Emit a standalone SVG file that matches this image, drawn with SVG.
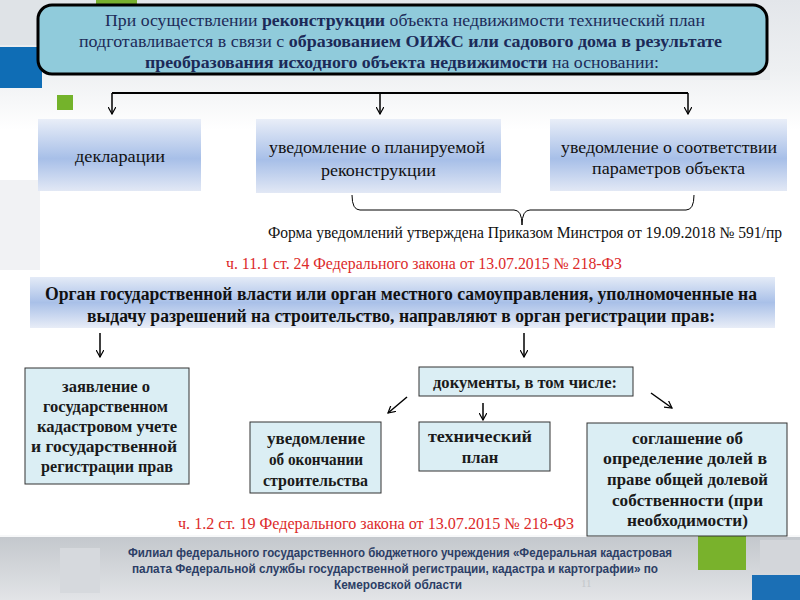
<svg xmlns="http://www.w3.org/2000/svg" width="800" height="600" viewBox="0 0 800 600">
<defs>
<linearGradient id="bgTop" x1="0" y1="0" x2="0" y2="1">
<stop offset="0" stop-color="#e3e6ea"/>
<stop offset="0.55" stop-color="#eef0f2"/>
<stop offset="1" stop-color="#ffffff"/>
</linearGradient>
<linearGradient id="band" x1="0" y1="0" x2="0" y2="1">
<stop offset="0" stop-color="#c4c8cd"/>
<stop offset="1" stop-color="#e2e4e7"/>
</linearGradient>
<linearGradient id="boxGrad" x1="0" y1="0" x2="0" y2="1">
<stop offset="0" stop-color="#e9eef8"/>
<stop offset="0.55" stop-color="#a7bfe8"/>
<stop offset="1" stop-color="#e2e8f5"/>
</linearGradient>
<linearGradient id="banGrad" x1="0" y1="0" x2="0" y2="1">
<stop offset="0" stop-color="#e4ebf7"/>
<stop offset="0.5" stop-color="#a9c0e8"/>
<stop offset="1" stop-color="#e8edf7"/>
</linearGradient>
<marker id="vee" viewBox="0 0 10 10" refX="9" refY="5" markerWidth="8" markerHeight="8" markerUnits="userSpaceOnUse" orient="auto">
<path d="M0,0 L9,5 L0,10" fill="none" stroke="#000" stroke-width="1.5"/>
</marker>
</defs>
<style>
.serif{font-family:"Liberation Serif","DejaVu Serif",serif;}
.top{font-size:17.5px;fill:#1c2a58;}
.gb{font-size:17.5px;fill:#111;}
.lb{font-size:16.5px;font-weight:bold;fill:#1a1a1a;}
.red{font-size:16px;fill:#dc2a2a;}
.foot{font-family:"Liberation Sans Narrow","Liberation Sans",Arial,sans-serif;font-size:13px;font-weight:bold;fill:#2c3e66;}
.grad{fill:url(#boxGrad);}
.light{fill:#dbeef4;stroke:#333;stroke-width:1;}
.conn{stroke:#000;fill:none;}
</style>

<!-- background -->
<rect x="0" y="0" width="800" height="600" fill="#ffffff"/>
<rect x="0" y="0" width="800" height="130" fill="url(#bgTop)"/>
<rect x="0" y="0" width="60" height="45" fill="#dfe3e7"/>
<rect x="700" y="20" width="70" height="60" fill="#e8ebee"/>
<rect x="0" y="180" width="40" height="90" fill="#f1f2f4"/>
<rect x="0" y="47" width="42" height="41" fill="#0f6db5"/>
<rect x="96" y="0" width="41" height="6" fill="#78b02e"/>
<rect x="57" y="95" width="16" height="15" fill="#74b32b"/>
<rect x="0" y="535" width="800" height="2" fill="#f7f8f9"/>
<rect x="0" y="537" width="800" height="63" fill="url(#band)"/>
<rect x="60" y="548" width="40" height="45" fill="#d6d9dd"/>
<rect x="760" y="540" width="40" height="30" fill="#d3d6da"/>
<rect x="698" y="535" width="48" height="35" fill="#79b22c"/>
<rect x="752" y="575" width="48" height="25" fill="#1b6fb5"/>

<!-- connectors -->
<g id="connectors">
<path class="conn" stroke-width="2" d="M112,93 L688,93"/>
<path class="conn" stroke-width="1.5" d="M112,93 L112,114" marker-end="url(#vee)"/>
<path class="conn" stroke-width="1.5" d="M380,93 L380,114" marker-end="url(#vee)"/>
<path class="conn" stroke-width="1.5" d="M688,93 L688,114" marker-end="url(#vee)"/>
<path class="conn" stroke-width="1" d="M352,195 Q352,210 360,210 L514,210 Q522,210 522,225 Q522,210 530,210 L686,210 Q694,210 694,195"/>
<path class="conn" stroke-width="1.5" d="M100,333 L100,357" marker-end="url(#vee)"/>
<path class="conn" stroke-width="1.5" d="M524,333 L524,357" marker-end="url(#vee)"/>
<path class="conn" stroke-width="1.5" d="M407,397 L388,413" marker-end="url(#vee)"/>
<path class="conn" stroke-width="1.5" d="M483,403 L483,420" marker-end="url(#vee)"/>
<path class="conn" stroke-width="1.5" d="M651,393 L672,408" marker-end="url(#vee)"/>
</g>

<!-- top header -->
<g id="header">
<rect x="38" y="5" width="729" height="69" rx="14" ry="14" fill="#90cbdb" stroke="#000" stroke-width="3"/>
<text class="serif top" x="105" y="26" textLength="600" lengthAdjust="spacingAndGlyphs">При осуществлении <tspan font-weight="bold">реконструкции</tspan> объекта недвижимости технический план</text>
<text class="serif top" x="79" y="47" textLength="643" lengthAdjust="spacingAndGlyphs">подготавливается в связи с <tspan font-weight="bold">образованием ОИЖС или садового дома в результате</tspan></text>
<text class="serif top" x="145" y="68" textLength="514" lengthAdjust="spacingAndGlyphs"><tspan font-weight="bold">преобразования исходного объекта недвижимости</tspan> на основании:</text>
</g>

<g id="n-declaration">
<rect class="grad" x="38" y="119" width="163" height="72"/>
<text class="serif gb" x="75" y="162" textLength="90" lengthAdjust="spacingAndGlyphs">декларации</text>
</g>
<g id="n-notice-plan">
<rect class="grad" x="256" y="119" width="245" height="74"/>
<text class="serif gb" x="269" y="153" textLength="216" lengthAdjust="spacingAndGlyphs">уведомление о планируемой</text>
<text class="serif gb" x="321" y="176" textLength="115" lengthAdjust="spacingAndGlyphs">реконструкции</text>
</g>
<g id="n-notice-conform">
<rect class="grad" x="550" y="119" width="237" height="72"/>
<text class="serif gb" x="561" y="153" textLength="216" lengthAdjust="spacingAndGlyphs">уведомление о соответствии</text>
<text class="serif gb" x="592" y="174" textLength="153" lengthAdjust="spacingAndGlyphs">параметров объекта</text>
</g>

<g id="form-note">
<text class="serif" font-size="16" fill="#111" x="268" y="238" textLength="514" lengthAdjust="spacingAndGlyphs">Форма уведомлений утверждена Приказом Минстроя от 19.09.2018 № 591/пр</text>
</g>
<g id="law-1">
<text class="serif red" x="226" y="269" textLength="396" lengthAdjust="spacingAndGlyphs">ч. 11.1 ст. 24 Федерального закона от 13.07.2015 № 218-ФЗ</text>
</g>

<g id="n-authority">
<rect x="30" y="277" width="745" height="51" fill="url(#banGrad)"/>
<text class="serif" font-size="18" font-weight="bold" fill="#111" x="45" y="300" textLength="712" lengthAdjust="spacingAndGlyphs">Орган государственной власти или орган местного самоуправления, уполномоченные на</text>
<text class="serif" font-size="18" font-weight="bold" fill="#111" x="87" y="322" textLength="628" lengthAdjust="spacingAndGlyphs">выдачу разрешений на строительство, направляют в орган регистрации прав:</text>
</g>

<g id="n-application">
<rect class="light" x="25" y="368" width="164" height="116"/>
<text class="serif lb" x="62" y="392" textLength="88" lengthAdjust="spacingAndGlyphs">заявление о</text>
<text class="serif lb" x="43" y="412" textLength="125" lengthAdjust="spacingAndGlyphs">государственном</text>
<text class="serif lb" x="37" y="432" textLength="140" lengthAdjust="spacingAndGlyphs">кадастровом учете</text>
<text class="serif lb" x="31" y="452" textLength="146" lengthAdjust="spacingAndGlyphs">и государственной</text>
<text class="serif lb" x="41" y="472" textLength="132" lengthAdjust="spacingAndGlyphs">регистрации прав</text>
</g>

<g id="n-documents">
<rect class="light" x="419" y="367" width="214" height="29"/>
<text class="serif lb" x="433" y="388" textLength="184" lengthAdjust="spacingAndGlyphs">документы, в том числе:</text>
</g>

<g id="n-completion">
<rect class="light" x="250" y="422" width="131" height="71"/>
<text class="serif lb" x="267" y="444" textLength="98" lengthAdjust="spacingAndGlyphs">уведомление</text>
<text class="serif lb" x="269" y="465" textLength="94" lengthAdjust="spacingAndGlyphs">об окончании</text>
<text class="serif lb" x="263" y="486" textLength="105" lengthAdjust="spacingAndGlyphs">строительства</text>
</g>

<g id="n-techplan">
<rect class="light" x="419" y="422" width="131" height="49"/>
<text class="serif lb" x="428" y="442" textLength="104" lengthAdjust="spacingAndGlyphs">технический</text>
<text class="serif lb" x="480" y="463" text-anchor="middle">план</text>
</g>

<g id="n-agreement">
<rect class="light" x="587" y="423" width="200" height="113"/>
<text class="serif lb" x="632" y="444" textLength="111" lengthAdjust="spacingAndGlyphs">соглашение об</text>
<text class="serif lb" x="603" y="464" textLength="164" lengthAdjust="spacingAndGlyphs">определение долей в</text>
<text class="serif lb" x="607" y="485" textLength="161" lengthAdjust="spacingAndGlyphs">праве общей долевой</text>
<text class="serif lb" x="612" y="506" textLength="151" lengthAdjust="spacingAndGlyphs">собственности (при</text>
<text class="serif lb" x="627" y="526" textLength="121" lengthAdjust="spacingAndGlyphs">необходимости)</text>
</g>

<g id="law-2">
<text class="serif red" x="178" y="529" textLength="396" lengthAdjust="spacingAndGlyphs">ч. 1.2 ст. 19 Федерального закона от 13.07.2015 № 218-ФЗ</text>
</g>

<g id="footer">
<text class="serif" font-size="11" fill="#c3c7cb" x="581" y="587">11</text>
<text class="foot" x="128" y="557" textLength="544" lengthAdjust="spacingAndGlyphs">Филиал федерального государственного бюджетного учреждения «Федеральная кадастровая</text>
<text class="foot" x="132" y="573" textLength="526" lengthAdjust="spacingAndGlyphs">палата Федеральной службы государственной регистрации, кадастра и картографии» по</text>
<text class="foot" x="334" y="589" textLength="128" lengthAdjust="spacingAndGlyphs">Кемеровской области</text>
</g>
</svg>
